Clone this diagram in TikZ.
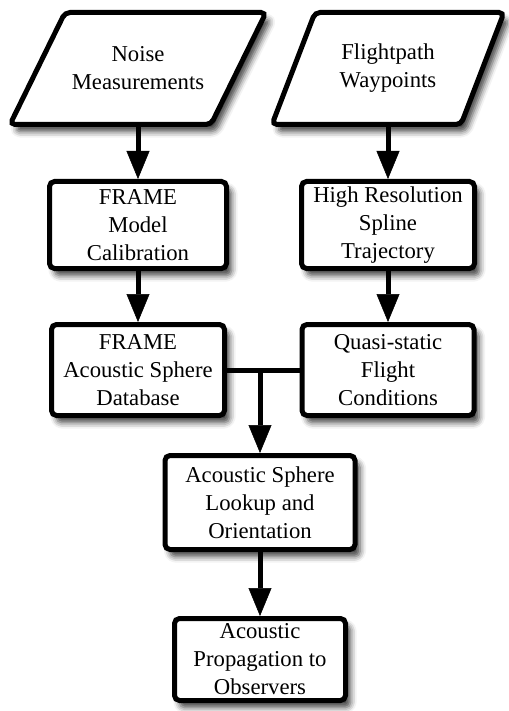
\documentclass[tikz,border=0pt]{standalone}
\usepackage{fontspec}
\setmainfont{Liberation Serif}
\usetikzlibrary{positioning,arrows.meta,shadows.blur}

\begin{document}
\begin{tikzpicture}[x=1pt,y=-1pt,
txt/.style={align=center,font=\fontsize{22.7}{28}\selectfont},
shade/.style={blur shadow={shadow xshift=5pt,shadow yshift=-7pt,shadow blur radius=6pt,shadow opacity=75}},
box/.style={txt,draw,rectangle,rounded corners=5pt,line width=5pt,fill=white,inner sep=0pt,shade},
para/.style={draw,line width=5pt,rounded corners=5pt,fill=white,shade},
conn/.style={line width=5pt,fill opacity=1,draw opacity=1,-{Triangle[length=28pt 0 0,width=23pt 0 0,line width=0.5pt,fill=black]}}]
\useasboundingbox (0,0) rectangle (508,711);

% input data
\path[para] (65,12.5) -- (266,12.5) -- (211,124.5) -- (10,124.5) -- cycle;
\node (noise) [txt,minimum height=112pt,inner sep=0pt,outer sep=0pt] at (138,68.5) {Noise\\Measurements};
\path[para] (315,12.5) -- (504,12.5) -- (461,124.5) -- (272,124.5) -- cycle;
\node (wpts) [txt,minimum height=112pt,inner sep=0pt,outer sep=0pt] at (388,68.5) {Flightpath\\Waypoints};

% processing
\node (calib) [box,minimum width=177pt,minimum height=87pt] at (138,225) {FRAME\\Model\\Calibration};
\node (spline) [box,minimum width=173pt,minimum height=87pt] at (388,225) {High Resolution\\Spline\\Trajectory};
\node (sphdb) [box,minimum width=173pt,minimum height=91pt] at (138,370) {FRAME\\Acoustic Sphere\\Database};
\node (quasi) [box,minimum width=172pt,minimum height=91pt] at (388,370) {Quasi-static\\Flight\\Conditions};
\node (lookup) [box,minimum width=190pt,minimum height=94pt] at (260,502.5) {Acoustic Sphere\\Lookup and\\Orientation};
\node (prop) [box,minimum width=171pt,minimum height=82pt] at (260,659.5) {Acoustic\\Propagation to\\Observers};

\coordinate (join) at (lookup.north |- sphdb.east);

\draw[conn] (noise.south) -- (calib.north);
\draw[conn] (wpts.south) -- (spline.north);
\draw[conn] (calib) -- (sphdb);
\draw[conn] (spline) -- (quasi);
\draw[line width=5pt] (sphdb.east) -- (quasi.west);
\draw[conn] (join) -- (lookup.north);
\draw[conn] (lookup) -- (prop);
\end{tikzpicture}
\end{document}
